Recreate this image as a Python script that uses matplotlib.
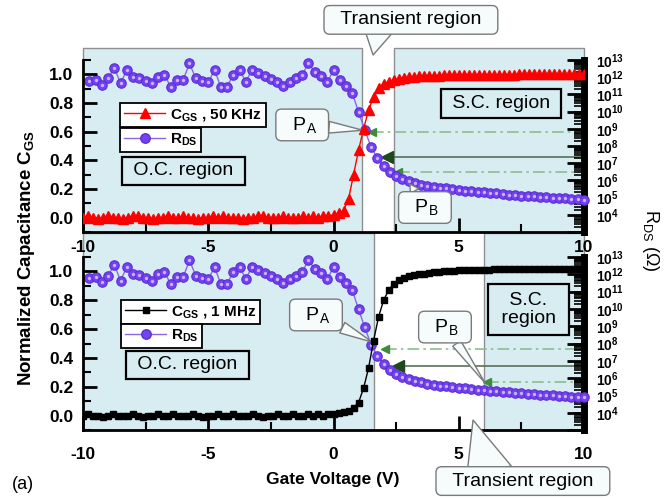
import numpy as np
import matplotlib
matplotlib.use("Agg")
import matplotlib.pyplot as plt
from matplotlib.lines import Line2D
from matplotlib.ticker import LogLocator, NullFormatter, MultipleLocator

plt.rcParams['font.family'] = ['Liberation Sans', 'DejaVu Sans']
plt.rcParams['mathtext.fontset'] = 'custom'
plt.rcParams['mathtext.rm'] = 'Liberation Sans'
plt.rcParams['mathtext.bf'] = 'Liberation Sans:bold'
plt.rcParams['mathtext.it'] = 'Liberation Sans:italic'

# gate voltage sweeps: C-V in 0.2 V steps, R_DS in 0.25 V steps
v_cgs = np.round(np.linspace(-10, 10, 101), 2)
v_rds = np.round(np.linspace(-9.75, 10, 80), 2)

# normalized C_GS at 50 KHz (top panel)
cgs_50k = [
    0.00, 0.01, 0.00, -0.01, 0.00, 0.01, 0.00, 0.00, -0.01, 0.00,
    0.01, 0.01, 0.00, 0.00, -0.01, 0.00, 0.00, 0.01, 0.00, 0.00,
    0.01, 0.00, 0.00, -0.01, 0.00, 0.00, 0.01, 0.00, 0.01, 0.00,
    0.00, 0.00, -0.01, 0.00, 0.00, 0.01, 0.01, 0.00, 0.00, 0.00,
    0.01, 0.00, 0.00, 0.00, 0.01, 0.00, 0.01, 0.00, 0.01, 0.01,
    0.02,
    0.03, 0.05, 0.13, 0.30, 0.47, 0.62, 0.75, 0.845, 0.905, 0.93,
    0.95, 0.96, 0.97, 0.975, 0.98, 0.983, 0.986, 0.988, 0.99, 0.99,
    0.991, 0.992, 0.993, 0.993, 0.994, 0.994, 0.995, 0.995, 0.996, 0.996,
    0.997, 0.997, 0.997, 0.998, 0.998, 0.998, 0.999, 0.999, 0.999, 1.0,
    1.0, 1.0, 1.001, 1.001, 1.002, 1.002, 1.003, 1.003, 1.004, 1.004,
]

# normalized C_GS at 1 MHz (bottom panel)
cgs_1m = [
    0.00, 0.01, 0.00, 0.00, -0.01, 0.00, 0.01, 0.00, 0.00, 0.00,
    0.01, 0.00, -0.01, 0.00, 0.00, 0.01, 0.00, 0.00, 0.01, 0.00,
    0.00, 0.00, 0.01, 0.00, -0.01, 0.00, 0.00, 0.01, 0.00, 0.00,
    0.01, 0.00, 0.00, 0.00, 0.01, 0.00, -0.01, 0.00, 0.00, 0.01,
    0.00, 0.00, 0.01, 0.00, 0.00, 0.01, 0.00, 0.01, 0.00, 0.01,
    0.01,
    0.015, 0.025, 0.035, 0.055, 0.09, 0.19, 0.33, 0.52, 0.685, 0.80,
    0.87, 0.915, 0.94, 0.955, 0.965, 0.975, 0.98, 0.985, 0.99, 0.995,
    0.998, 1.0, 1.003, 1.005, 1.007, 1.01, 1.01, 1.012, 1.012, 1.013,
    1.013, 1.014, 1.014, 1.015, 1.015, 1.015, 1.016, 1.016, 1.016, 1.017,
    1.017, 1.017, 1.017, 1.018, 1.018, 1.018, 1.018, 1.019, 1.019, 1.02,
]

# log10 of R_DS (ohm)
rds_log = [
    11.78, 11.84, 11.55, 11.93, 12.55, 11.64, 12.42, 12.03, 11.97, 11.78,
    11.64, 12.03, 12.13, 11.45, 11.84, 11.84, 12.81, 11.93, 11.78, 11.70,
    12.42, 11.45, 11.45, 12.13, 12.42, 11.74, 12.42, 12.22, 12.09, 11.89,
    11.74, 11.51, 11.74, 11.93, 12.13, 12.81, 12.32, 12.09, 11.70, 12.42,
    11.84, 11.49, 11.08, 9.98, 8.93, 7.94, 7.30, 6.84, 6.49, 6.26,
    6.08, 5.97, 5.85, 5.76, 5.67, 5.62, 5.57, 5.53, 5.49, 5.44,
    5.41, 5.37, 5.34, 5.30, 5.27, 5.24, 5.21, 5.18, 5.15, 5.12,
    5.09, 5.07, 5.05, 5.02, 5.00, 4.98, 4.95, 4.93, 4.91, 4.88,
]
rds = 10.0 ** np.array(rds_log)

# transient region limits (V)
trans_50k = [1.15, 2.4]
trans_1m = [1.6, 6.0]

# guide arrows: log10(R) level, arrow tip (V), dash-dot?
arrows_50k = [(8.83, 1.52, True), (7.38, 2.12, False), (6.50, 2.59, True)]
arrows_1m = [(7.68, 2.06, True), (6.70, 2.59, False), (5.79, 6.12, True)]

BG = '#d7edf2'
EDGE = '#8f8f8f'
PUR = '#7442f0'
CALL = '#7a7a7a'

fig = plt.figure(figsize=(6.69, 4.98), dpi=100)


def callout(ax, txt, xy, xytext, tw, relpos=(0.5, 0.5), patch=True):
    props = dict(arrowstyle='wedge,tail_width=%g,shrink_factor=0.5' % tw,
                 fc='#f6fbfc', ec=CALL, lw=1, shrinkA=0, shrinkB=0, relpos=relpos)
    if not patch:
        props['patchA'] = None
    ax.annotate(txt, xy=xy, xytext=xytext, ha='center', va='center', fontsize=14,
                annotation_clip=False,
                bbox=dict(boxstyle='round,pad=0.3', fc='#f6fbfc', ec=CALL, lw=1),
                arrowprops=props)


def panel(rect, z, cgs, mk, ms, col, name, trans, shade_top, xpad, arrows, legpos):
    ax = fig.add_axes(rect)
    ax2 = ax.twinx()
    ax2.set_zorder(z)
    ax.set_zorder(z + 1)
    ax.patch.set_visible(False)

    # shaded O.C. / S.C. regions
    for a, b in [(-10, trans[0]), (trans[1], 10)]:
        sp = ax2.axvspan(a, b, 0, shade_top, fc=BG, ec=EDGE, lw=1, zorder=0)
        sp.set_clip_on(False)

    # green guide arrows from the right axis
    for lvl, tip, dashed in arrows:
        if dashed:
            ax2.plot([tip, 10], [10 ** lvl, 10 ** lvl], color='#8cbd8c', lw=1.2,
                     ls=(0, (7, 2.5, 1.5, 2.5)), zorder=1)
            ax2.plot([tip], [10 ** lvl], marker='<', ms=6, color='#3d8c3d', zorder=2)
        else:
            ax2.plot([tip, 10], [10 ** lvl, 10 ** lvl], color='#5a6f5a', lw=1.2, zorder=1)
            ax2.plot([tip], [10 ** lvl], marker='<', ms=8, color='#1d4a1d', zorder=2)

    # R_DS on the log axis
    ax2.plot(v_rds, rds, color='#8a66e6', lw=1, zorder=3, clip_on=False)
    ax2.plot(v_rds, rds, 'o', ms=6.8, mfc=PUR, mec='#5a2ed6', mew=0.8, zorder=4, clip_on=False)
    ax2.plot(v_rds, rds, 'o', ms=2.4, mfc='#c8b6ff', mec='none', zorder=5, clip_on=False)
    ax2.set_yscale('log')
    ax2.set_ylim(1e3, 1e13)
    dec = [10.0 ** k for k in range(3, 14)]
    ax2.set_yticks(dec, [''] + [r'$\mathbf{10^{%d}}$' % k for k in range(4, 14)], fontsize=10)
    ax2.yaxis.set_minor_locator(LogLocator(base=10, subs=np.arange(2, 10), numticks=30))
    ax2.yaxis.set_minor_formatter(NullFormatter())
    ax2.tick_params(axis='y', which='major', direction='in', length=12, width=2, pad=9)
    ax2.tick_params(axis='y', which='minor', direction='in', length=7, width=1.2)
    for s in ['top', 'left', 'bottom']:
        ax2.spines[s].set_visible(False)
    ax2.spines['right'].set_linewidth(5)

    # C_GS on the linear axis
    ax.plot(v_cgs, cgs, color=col, lw=1, marker=mk, ms=ms, mec=col, mfc=col, zorder=6)
    ax.set_xlim(-10, 10)
    ax.set_ylim(-0.1, 1.1)
    ax.set_xticks([-10, -5, 0, 5, 10], ['-10', '-5', '0', '5', '10'],
                  fontsize=12.5, fontweight='bold')
    ax.set_yticks([0, 0.2, 0.4, 0.6, 0.8, 1.0], ['0.0', '0.2', '0.4', '0.6', '0.8', '1.0'],
                  fontsize=12.5, fontweight='bold')
    ax.xaxis.set_minor_locator(MultipleLocator(2.5))
    ax.yaxis.set_minor_locator(MultipleLocator(0.1))
    ax.tick_params(which='major', direction='in', length=10, width=2)
    ax.tick_params(which='minor', direction='in', length=6, width=1.5)
    ax.tick_params(axis='x', pad=xpad)
    ax.tick_params(axis='y', pad=7)
    for s in ['top', 'right']:
        ax.spines[s].set_visible(False)
    for s in ['left', 'bottom']:
        ax.spines[s].set_linewidth(2)

    # legend boxes
    h1 = Line2D([], [], color=col, lw=1, marker=mk, ms=ms, mfc=col, mec=col)
    h2 = Line2D([], [], color='#8a66e6', lw=1, marker='o', ms=6.8, mfc=PUR, mec='#5a2ed6')
    common = dict(loc='upper left', borderaxespad=0, fancybox=False, framealpha=1,
                  edgecolor='black', prop=dict(weight='bold', size=11),
                  handlelength=2.7, handletextpad=0.3, borderpad=0.25)
    l1 = ax.legend([h1], [r'C$_{\mathbf{GS}}$ , ' + name], bbox_to_anchor=legpos[0], **common)
    l1.get_frame().set_linewidth(1.3)
    ax.add_artist(l1)
    l2 = ax.legend([h2], [r'R$_{\mathbf{DS}}$'], bbox_to_anchor=legpos[1], **common)
    l2.get_frame().set_linewidth(1.3)
    return ax


box = dict(boxstyle='square,pad=0.3', fc=BG, ec='black', lw=1.6)

# top panel, 50 KHz
ax_t = panel([83 / 669, 1 - 232 / 498, 501 / 669, 172 / 498], 2, cgs_50k, '^', 7, 'red',
             '50 KHz', trans_50k, 1.07, 6, arrows_50k, [(0.074, 0.75), (0.074, 0.605)])
ax_t.text(6.69, 0.797, ' S.C. region ', ha='center', va='center', fontsize=14, bbox=box, zorder=7)
ax_t.text(-5.99, 0.326, ' O.C. region ', ha='center', va='center', fontsize=14, bbox=box, zorder=7)
callout(ax_t, r'  P$_{\rm A}$  ', (1.17, 0.61), (-1.25, 0.647), 0.6)
callout(ax_t, r'  P$_{\rm B}$  ', (3.05, 0.235), (3.65, 0.071), 0.5)
callout(ax_t, '  Transient region  ', (1.58, 1.135), (3.09, 1.38), 1.6, relpos=(0.3, 0), patch=False)

# bottom panel, 1 MHz
ax_b = panel([83 / 669, 1 - 430 / 498, 501 / 669, 173 / 498], 0, cgs_1m, 's', 4.8, 'black',
             '1 MHz', trans_1m, 1.139, 12, arrows_1m, [(0.076, 0.751), (0.076, 0.613)])
ax_b.text(7.78, 0.736, ' S.C. \n region ', ha='center', va='center', fontsize=14,
          linespacing=1.05, bbox=dict(boxstyle='square,pad=0.4', fc=BG, ec='black', lw=1.6), zorder=7)
ax_b.text(-5.83, 0.351, ' O.C. region ', ha='center', va='center', fontsize=14, bbox=box, zorder=7)
callout(ax_b, r'  P$_{\rm A}$  ', (1.54, 0.51), (-0.70, 0.698), 0.6)
callout(ax_b, r'  P$_{\rm B}$  ', (6.05, 0.226), (4.45, 0.614), 0.5)
callout(ax_b, '  Transient region  ', (5.57, -0.031), (7.56, -0.454), 2.4, relpos=(0.29, 1), patch=False)

fig.text(27 / 669, 1 - 258 / 498, r'Normalized Capacitance C$_{\mathbf{GS}}$', rotation=90,
         ha='center', va='center', fontsize=13.5, fontweight='bold')
fig.text(650 / 669, 1 - 240 / 498, r'R$_{\rm DS}$ (Ω)', rotation=270,
         ha='center', va='center', fontsize=13)
fig.text(333 / 669, 1 - 479 / 498, 'Gate Voltage (V)', ha='center', va='center',
         fontsize=12.5, fontweight='bold')
fig.text(12 / 669, 1 - 484 / 498, '(a)', ha='left', va='center', fontsize=13)

fig.savefig('out.png', dpi=100)
